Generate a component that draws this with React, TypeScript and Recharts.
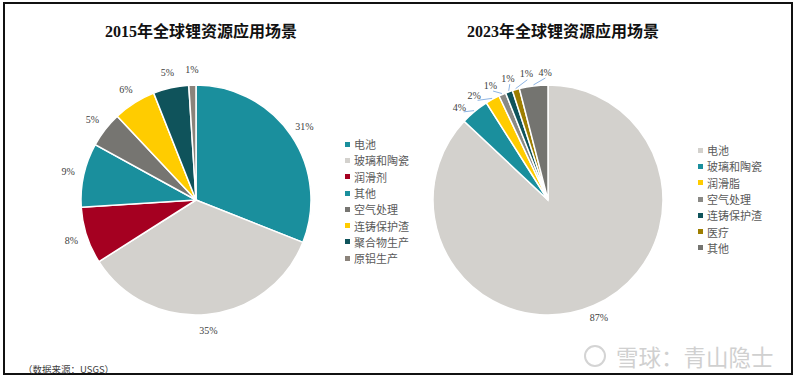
import React from 'react';
import { PieChart, Pie, Cell, Legend } from 'recharts';

const names2015 = ['电池', '玻璃和陶瓷', '润滑剂', '其他', '空气处理', '连铸保护渣', '聚合物生产', '原铝生产'];
const values2015 = [31, 35, 8, 9, 5, 6, 5, 1];
const colors2015 = ['#1A8F9D', '#D3D1CD', '#A50021', '#1A8F9D', '#767571', '#FFCC00', '#0F535B', '#8B837B'];

const names2023 = ['电池', '玻璃和陶瓷', '润滑脂', '空气处理', '连铸保护渣', '医疗', '其他'];
const values2023 = [87, 4, 2, 1, 1, 1, 4];
const colors2023 = ['#D3D1CD', '#1A8F9D', '#FFCC00', '#8A8985', '#0F535B', '#9E7E00', '#747470'];

const title2015 = '2015年全球锂资源应用场景';
const title2023 = '2023年全球锂资源应用场景';
const sourceText = '（数据来源：USGS）';
const watermark = '雪球：青山隐士';

const SERIF = '"Liberation Serif", "Times New Roman", "Noto Sans CJK SC", serif';
const CJK = '"Noto Sans CJK SC", "Liberation Serif", sans-serif';

type Spread = { mids: number[]; angles: number[]; clustered: boolean[] };

function spreadAngles(values: number[], minGap: number): Spread {
  const total = values.reduce((s, v) => s + v, 0);
  let acc = 0;
  const mids = values.map((v) => {
    const m = ((acc + v / 2) / total) * 360;
    acc += v;
    return m;
  });
  let clusters = mids.map((m, i) => ({ idx: [i], center: m }));
  let changed = true;
  while (changed) {
    changed = false;
    for (let k = 0; k < clusters.length - 1; k++) {
      const a = clusters[k];
      const b = clusters[k + 1];
      const aEnd = a.center + ((a.idx.length - 1) * minGap) / 2;
      const bStart = b.center - ((b.idx.length - 1) * minGap) / 2;
      if (bStart - aEnd < minGap) {
        const idx = [...a.idx, ...b.idx];
        const center = idx.reduce((s, i) => s + mids[i], 0) / idx.length;
        clusters.splice(k, 2, { idx, center });
        changed = true;
        break;
      }
    }
  }
  const angles: number[] = [];
  const clustered: boolean[] = [];
  clusters.forEach((c) =>
    c.idx.forEach((i, j) => {
      angles[i] = c.center + (j - (c.idx.length - 1) / 2) * minGap;
      clustered[i] = c.idx.length > 1;
    })
  );
  return { mids, angles, clustered };
}

const RAD = Math.PI / 180;
const pt = (cx: number, cy: number, r: number, deg: number) => ({
  x: cx + r * Math.sin(deg * RAD),
  y: cy - r * Math.cos(deg * RAD),
});

function makeLabel(spread: Spread, dist: number) {
  return (props: any) => {
    const { cx, cy, outerRadius, index, value } = props;
    const ang = spread.angles[index];
    const p = pt(cx, cy, outerRadius + dist, ang);
    const elems: any[] = [];
    if (spread.clustered[index]) {
      const a = pt(cx, cy, outerRadius + 1, spread.mids[index]);
      const b = pt(cx, cy, outerRadius + dist - 6, ang);
      elems.push(
        <polyline
          key="l"
          points={`${a.x},${a.y} ${b.x},${b.y}`}
          stroke="#8EB4E3"
          strokeWidth={1}
          fill="none"
        />
      );
    }
    elems.push(
      <text
        key="t"
        x={p.x}
        y={p.y}
        textAnchor="middle"
        dominantBaseline="central"
        fontFamily={SERIF}
        fontSize={10}
        fill="#404040"
      >
        {`${value}%`}
      </text>
    );
    return <g>{elems}</g>;
  };
}

const LegendBox = ({ names, colors }: { names: string[]; colors: string[] }) => (
  <div style={{ display: 'flex', flexDirection: 'column' }}>
    {names.map((n, i) => (
      <div
        key={i}
        style={{
          height: 16.3,
          display: 'flex',
          alignItems: 'center',
          fontSize: 11,
          color: '#595959',
          fontFamily: CJK,
          whiteSpace: 'nowrap',
        }}
      >
        <span
          style={{ width: 5, height: 5, background: colors[i], marginRight: 4, display: 'inline-block' }}
        />
        {n}
      </div>
    ))}
  </div>
);

const spread2015 = spreadAngles(values2015, 8.5);
const spread2023 = spreadAngles(values2023, 8.5);

const data2015 = names2015.map((n, i) => ({ name: n, value: values2015[i] }));
const data2023 = names2023.map((n, i) => ({ name: n, value: values2023[i] }));

export default function App() {
  return (
    <div style={{ position: 'absolute', left: 0, top: 0, width: 800, height: 381, background: '#fff', overflow: 'hidden' }}>
      <div
        style={{
          position: 'absolute',
          left: 3,
          top: 2,
          width: 790,
          height: 373,
          border: '2px solid #111',
          boxSizing: 'border-box',
        }}
      />
      <div
        style={{
          position: 'absolute',
          left: 0,
          width: 402,
          top: 18,
          textAlign: 'center',
          fontFamily: SERIF,
          fontWeight: 'bold',
          fontSize: 16,
          color: '#111',
        }}
      >
        {title2015}
      </div>
      <div
        style={{
          position: 'absolute',
          left: 362,
          width: 402,
          top: 18,
          textAlign: 'center',
          fontFamily: SERIF,
          fontWeight: 'bold',
          fontSize: 16,
          color: '#111',
        }}
      >
        {title2023}
      </div>

      <div style={{ position: 'absolute', left: 0, top: 0 }}>
        <PieChart width={400} height={381} margin={{ top: 0, right: 0, bottom: 0, left: 0 }}>
          <Pie
            data={data2015}
            dataKey="value"
            nameKey="name"
            cx={196}
            cy={200}
            outerRadius={115}
            startAngle={90}
            endAngle={-270}
            stroke="#fff"
            strokeWidth={1.5}
            isAnimationActive={false}
            labelLine={false}
            label={makeLabel(spread2015, 16)}
          >
            {data2015.map((d, i) => (
              <Cell key={i} fill={colors2015[i]} />
            ))}
          </Pie>
          <Legend
            layout="vertical"
            align="right"
            verticalAlign="top"
            wrapperStyle={{ left: 345, top: 136, width: 80 }}
            content={() => <LegendBox names={names2015} colors={colors2015} />}
          />
        </PieChart>
      </div>

      <div style={{ position: 'absolute', left: 400, top: 0 }}>
        <PieChart width={400} height={381} margin={{ top: 0, right: 0, bottom: 0, left: 0 }}>
          <Pie
            data={data2023}
            dataKey="value"
            nameKey="name"
            cx={148}
            cy={200}
            outerRadius={115}
            startAngle={90}
            endAngle={-270}
            stroke="#fff"
            strokeWidth={1.5}
            isAnimationActive={false}
            labelLine={false}
            label={makeLabel(spread2023, 13)}
          >
            {data2023.map((d, i) => (
              <Cell key={i} fill={colors2023[i]} />
            ))}
          </Pie>
          <Legend
            layout="vertical"
            align="right"
            verticalAlign="top"
            wrapperStyle={{ left: 298, top: 142, width: 90 }}
            content={() => <LegendBox names={names2023} colors={colors2023} />}
          />
        </PieChart>
      </div>

      <div
        style={{
          position: 'absolute',
          left: 23,
          top: 362,
          fontFamily: CJK,
          fontSize: 9.5,
          color: '#404040',
          whiteSpace: 'nowrap',
        }}
      >
        {sourceText}
      </div>

      <div style={{ position: 'absolute', left: 584, top: 343, display: 'flex', alignItems: 'center' }}>
        <div
          style={{
            width: 22,
            height: 22,
            borderRadius: '50%',
            border: '2px solid #d4d4d4',
            boxSizing: 'border-box',
            marginRight: 10,
          }}
        />
        <div style={{ fontFamily: CJK, fontSize: 22.5, color: '#d0d0d0', whiteSpace: 'nowrap', lineHeight: '26px' }}>
          {watermark}
        </div>
      </div>
    </div>
  );
}
